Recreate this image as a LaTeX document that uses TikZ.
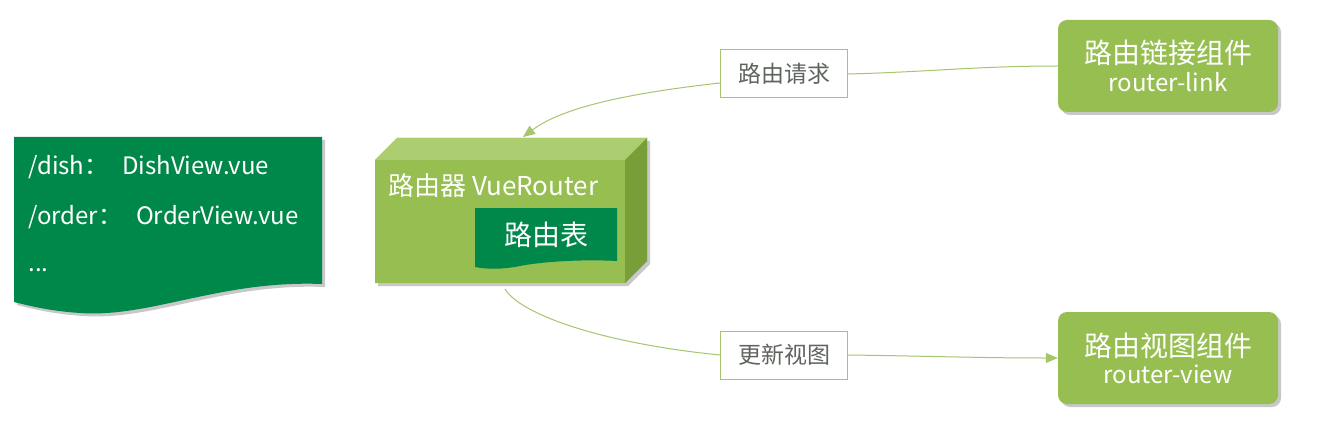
\documentclass[tikz,border=0pt]{standalone}
\usepackage{fontspec}
\setmainfont{Noto Sans CJK SC}
\usetikzlibrary{arrows.meta,positioning,shadows}
\definecolor{vrdark}{RGB}{0,136,74}
\definecolor{vrgreen}{RGB}{150,190,80}
\definecolor{vrtop}{RGB}{172,206,112}
\definecolor{vrside}{RGB}{120,158,58}
\definecolor{vrline}{RGB}{165,198,108}
\definecolor{vrtext}{RGB}{95,100,95}

\begin{document}
\begin{tikzpicture}[x=1pt,y=-1pt,
  softshadow/.style={drop shadow={shadow xshift=3pt,shadow yshift=-3pt,opacity=0.3,fill=black!70}},
  tagbox/.style={draw=vrline,fill=white,line width=1pt,minimum width=127pt,minimum height=48pt,text=vrtext,font=\fontsize{23}{26}\selectfont},
  compbox/.style={fill=vrgreen,rounded corners=9pt,minimum width=220pt,minimum height=92pt,text=white,align=center,softshadow},
  doctext/.style={anchor=west,text=white,font=\fontsize{24}{28}\selectfont},
  wire/.style={draw=vrline,line width=1pt},
  wiretip/.style={wire,-{Triangle[length=12pt,width=10pt]}}]
  \useasboundingbox[fill=white] (0,0) rectangle (1330,425);
  % route list (left document)
  \fill[vrdark,softshadow] (14,137) -- (322,137) -- (322,284)
    .. controls (220,280) and (150,318) .. (80,313)
    .. controls (50,311) and (30,306) .. (14,302) -- cycle;
  \node[doctext] (dish) at (25,167) {/dish：\hspace{14pt}DishView.vue};
  \node[doctext] (order) at (25,217) {/order：\hspace{14pt}OrderView.vue};
  \node[doctext] (more) at (25,270) {...};
  % router cube
  \fill[vrgreen,softshadow] (375,160) -- (397,138) -- (647,138) -- (647,261) -- (625,283) -- (375,283) -- cycle;
  \fill[vrtop] (375,160) -- (397,138) -- (647,138) -- (625,160) -- cycle;
  \fill[vrside] (625,160) -- (647,138) -- (647,261) -- (625,283) -- cycle;
  \node[anchor=west,text=white,font=\fontsize{26}{30}\selectfont] (router) at (385,186) {路由器 VueRouter};
  \fill[vrdark] (475,208) -- (617,208) -- (617,261)
    .. controls (580,259) and (540,262) .. (520,266)
    .. controls (500,270) and (485,269) .. (475,267) -- cycle;
  \node[text=white,font=\fontsize{28}{32}\selectfont] (table) at (546,235) {路由表};
  \coordinate (routertop) at (523,137);
  \coordinate (routerbottom) at (505,289);
  % components
  \node[compbox] (link) at (1168,66) {\fontsize{28}{32}\selectfont 路由链接组件\\[5pt]\fontsize{24}{30}\selectfont router-link};
  \node[compbox] (view) at (1168,358) {\fontsize{28}{32}\selectfont 路由视图组件\\[5pt]\fontsize{24}{30}\selectfont router-view};
  % labels
  \node[tagbox] (req) at (784,74) {路由请求};
  \node[tagbox] (upd) at (784,355) {更新视图};
  % connectors
  \draw[wire] (link.west) .. controls +(-80,0) and +(80,-2) .. (req.east);
  \draw[wiretip] ([yshift=-9pt]req.west) .. controls +(-90,10) and +(40,-30) .. (routertop);
  \draw[wire] (routerbottom) .. controls +(15,25) and +(-120,-12) .. (upd.west);
  \draw[wiretip] (upd.east) .. controls +(80,1) and +(-80,0) .. (view.west);
\end{tikzpicture}
\end{document}
